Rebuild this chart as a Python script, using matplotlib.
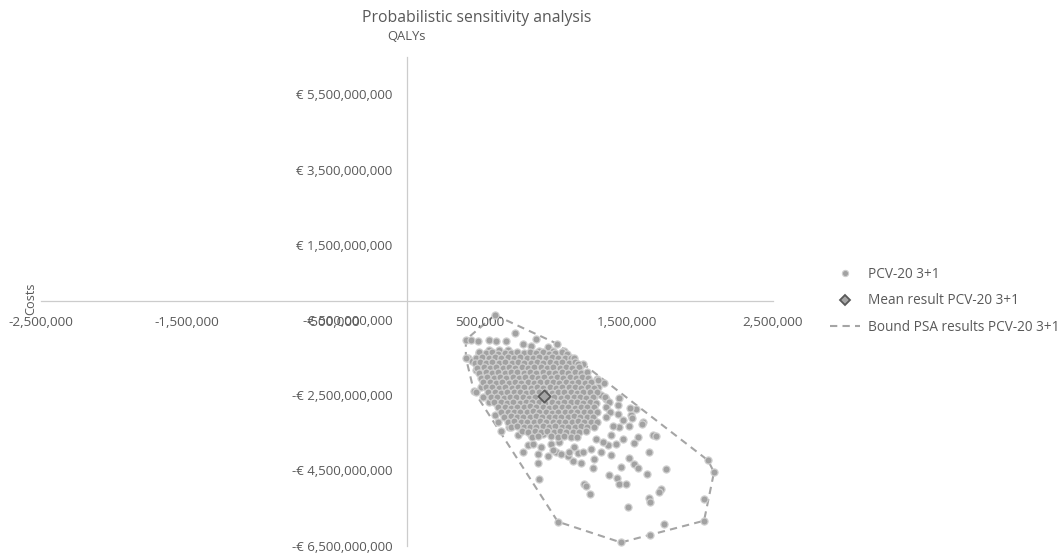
import numpy as np
import matplotlib.pyplot as plt
from matplotlib.lines import Line2D

plt.rcParams['font.family'] = ['Open Sans', 'DejaVu Sans']

# PSA iterations: (incremental QALYs in thousands, incremental costs in € millions)
psa_results = [
    # outer / sparse iterations
    (601, -368), (738, -842), (881, -1000), (403, -1026), (437, -1026), (485, -1052),
    (560, -1026), (608, -1052), (676, -1052), (560, -1289), (628, -1289), (690, -1289),
    (792, -1131), (847, -1184), (902, -1315), (963, -1210), (1025, -1131), (997, -1315),
    (1075, -1330), (417, -1499), (444, -1578), (492, -1368), (471, -1841), (506, -2288),
    (458, -2393), (471, -2420), (519, -2551), (560, -2683), (403, -1499),
    (1018, -1631), (1052, -1552), (1134, -1578), (1141, -1946), (1202, -1683), (1107, -1815),
    (1072, -2025), (1175, -2157), (1209, -2025), (1175, -1790), (1175, -2078), (1202, -2210),
    (1298, -2078), (1346, -2183), (1305, -2288), (1257, -2420), (1325, -2499), (1359, -2604),
    (1448, -2578), (1441, -2762), (1277, -2551), (1236, -2630), (1168, -2288), (1305, -2104),
    (601, -3025), (622, -3209), (645, -3460), (697, -3340), (758, -3551), (827, -3814),
    (792, -3998), (895, -4077), (915, -3866), (963, -4129), (984, -3787), (1018, -3998),
    (1052, -4077), (895, -4313), (902, -4734), (1031, -5865), (1134, -4261), (1189, -4313),
    (1100, -4129), (1141, -3866), (1209, -4866), (861, -3787), (929, -3524), (847, -3551),
    (1038, -3735), (997, -3945), (1107, -3998), (1168, -4050),
    (1564, -2867), (1530, -3025), (1612, -3209), (1680, -3551), (1701, -3577), (1578, -3603),
    (1551, -3761), (1448, -3340), (1407, -3314), (1516, -3314), (1475, -3656), (1428, -3787),
    (1653, -4024), (1516, -4182), (1394, -4103), (1277, -4208), (1271, -4445), (1551, -4340),
    (1578, -4445), (1462, -4418), (1769, -4471), (1640, -4603), (1380, -4629), (1435, -4708),
    (1448, -4866), (1496, -4866), (1223, -4918), (1250, -5129), (1735, -4997), (1721, -5076),
    (1653, -5234), (1660, -5339), (2056, -4234), (2097, -4550), (2029, -5260), (2029, -5839),
    (1510, -5471), (1756, -5918), (1660, -6215), (1462, -6417),
    (1394, -3551), (1373, -3814), (1325, -3998), (1257, -3919), (1202, -3998), (1339, -3735),
    (1291, -3656), (1475, -3156), (1540, -3110), (1523, -2840), (1605, -3261), (1441, -2998),
    # dense core
    (495, -1360), (538, -1385), (580, -1350), (622, -1395), (668, -1365), (710, -1380),
    (752, -1350), (798, -1390), (840, -1362), (885, -1378), (930, -1355), (972, -1392),
    (1015, -1368), (1060, -1350), (1095, -1400),
    (474, -1510), (516, -1490), (560, -1520), (603, -1488), (646, -1512), (690, -1495),
    (733, -1518), (776, -1486), (820, -1505), (862, -1522), (905, -1492), (948, -1510),
    (992, -1485), (1035, -1515), (1078, -1498), (1120, -1520), (1140, -1520),
    (468, -1640), (498, -1620), (540, -1645), (585, -1618), (628, -1640), (672, -1625),
    (715, -1648), (758, -1615), (800, -1635), (845, -1650), (888, -1622), (930, -1640),
    (975, -1615), (1018, -1638), (1062, -1625), (1105, -1650), (1148, -1620), (1172, -1660),
    (482, -1770), (525, -1750), (568, -1778), (612, -1755), (655, -1772), (698, -1748),
    (742, -1768), (785, -1752), (828, -1775), (870, -1760), (915, -1745), (958, -1772),
    (1000, -1755), (1045, -1778), (1088, -1750), (1130, -1768), (1175, -1755),
    (495, -1900), (538, -1882), (580, -1905), (625, -1885), (668, -1910), (710, -1890),
    (755, -1878), (798, -1902), (842, -1888), (885, -1908), (928, -1880), (972, -1898),
    (1015, -1912), (1058, -1885), (1100, -1900), (1145, -1880), (1188, -1905), (1230, -1895),
    (508, -2030), (550, -2015), (594, -2040), (636, -2018), (680, -2035), (722, -2010),
    (766, -2038), (808, -2020), (852, -2005), (895, -2032), (938, -2015), (982, -2040),
    (1025, -2012), (1068, -2030), (1112, -2018), (1155, -2042), (1198, -2020), (1240, -2035),
    (522, -2160), (565, -2145), (608, -2170), (650, -2150), (695, -2165), (738, -2140),
    (780, -2168), (825, -2150), (868, -2172), (910, -2145), (955, -2160), (998, -2138),
    (1040, -2170), (1085, -2152), (1128, -2165), (1170, -2148), (1215, -2175), (1255, -2155),
    (542, -2295), (585, -2275), (628, -2300), (672, -2280), (715, -2298), (758, -2272),
    (802, -2290), (845, -2305), (888, -2278), (932, -2296), (975, -2270), (1018, -2300),
    (1062, -2282), (1105, -2295), (1148, -2275), (1192, -2302), (1235, -2285), (1280, -2298),
    (556, -2425), (600, -2408), (642, -2432), (686, -2412), (730, -2428), (772, -2405),
    (815, -2435), (858, -2415), (902, -2428), (945, -2410), (990, -2432), (1032, -2412),
    (1075, -2425), (1120, -2405), (1162, -2430), (1205, -2418), (1250, -2428), (1295, -2410),
    (576, -2560), (618, -2540), (662, -2565), (705, -2545), (748, -2560), (792, -2538),
    (835, -2565), (878, -2548), (922, -2540), (965, -2555), (1008, -2540), (1052, -2565),
    (1095, -2545), (1138, -2560), (1182, -2538), (1225, -2562), (1268, -2548), (1355, -2545),
    (598, -2690), (640, -2672), (685, -2695), (728, -2675), (770, -2698), (815, -2670),
    (858, -2692), (900, -2675), (945, -2700), (988, -2678), (1030, -2695), (1075, -2672),
    (1118, -2690), (1162, -2675), (1205, -2698), (1250, -2680), (1292, -2695), (1378, -2690),
    (625, -2820), (668, -2805), (712, -2828), (755, -2808), (798, -2825), (842, -2800),
    (885, -2822), (928, -2805), (972, -2830), (1015, -2810), (1058, -2825), (1102, -2802),
    (1145, -2828), (1188, -2810), (1232, -2822), (1275, -2805), (1362, -2812),
    (645, -2950), (688, -2935), (732, -2960), (775, -2940), (818, -2958), (862, -2932),
    (905, -2955), (948, -2938), (992, -2962), (1035, -2940), (1078, -2955), (1122, -2935),
    (1165, -2960), (1208, -2942), (1252, -2958), (1295, -2935), (1385, -2945),
    (666, -3080), (710, -3065), (752, -3090), (795, -3070), (840, -3088), (882, -3062),
    (925, -3085), (968, -3068), (1012, -3092), (1055, -3070), (1098, -3085), (1142, -3065),
    (1185, -3090), (1228, -3072), (1272, -3088), (1360, -3085),
    (692, -3215), (735, -3198), (778, -3220), (822, -3200), (865, -3218), (908, -3195),
    (952, -3215), (995, -3200), (1038, -3222), (1082, -3205), (1125, -3218), (1168, -3198),
    (1212, -3215), (1255, -3205), (1300, -3220),
    (712, -3345), (755, -3330), (800, -3352), (842, -3335), (885, -3350), (930, -3328),
    (972, -3348), (1015, -3332), (1060, -3355), (1102, -3338), (1145, -3350), (1190, -3330),
    (1232, -3348), (1275, -3335),
    (785, -3460), (830, -3482), (872, -3465), (915, -3480), (960, -3458),
    (1002, -3478), (1045, -3462), (1090, -3485), (1132, -3468), (1175, -3480), (1220, -3462),
    (855, -3615), (898, -3598), (985, -3590),
    (1030, -3608), (1072, -3595), (1118, -3615), (1160, -3600),
]

mean_qaly_k, mean_cost_m = 935, -2530

# convex bound around the PSA cloud (thousands QALYs / € millions)
bound_qalys_k = [601, 1025, 2056, 2097, 2029, 1462, 1031, 458, 403, 403, 601]
bound_costs_m = [-368, -1131, -4234, -4550, -5839, -6417, -5865, -2393, -1499, -1026, -368]

x_ticks = [-2.5e6, -1.5e6, -0.5e6, 0.5e6, 1.5e6, 2.5e6]
x_tick_labels = ['-2,500,000', '-1,500,000', '-500,000', '500,000', '1,500,000', '2,500,000']
y_ticks = [5.5e9, 3.5e9, 1.5e9, -0.5e9, -2.5e9, -4.5e9, -6.5e9]
y_tick_labels = ['€ 5,500,000,000', '€ 3,500,000,000', '€ 1,500,000,000', '-€ 500,000,000',
                 '-€ 2,500,000,000', '-€ 4,500,000,000', '-€ 6,500,000,000']

series_names = ['PCV-20 3+1', 'Mean result PCV-20 3+1', 'Bound PSA results PCV-20 3+1']

pts = np.array(psa_results, dtype=float)
qalys = pts[:, 0] * 1e3
costs = pts[:, 1] * 1e6

grey = '#a2a2a2'
rim = '#cfcfcf'
text_grey = '#595959'
dash = (0, (3.5, 2.5))

fig = plt.figure(figsize=(10.61, 5.54), dpi=100)
ax = fig.add_axes([0.0382, 0.0152, 0.6904, 0.8823])

ax.plot(np.array(bound_qalys_k) * 1e3, np.array(bound_costs_m) * 1e6,
        color='#a5a5a5', lw=1.5, ls=dash, zorder=1)
ax.scatter(qalys, costs, s=26, c=grey, edgecolors=rim, linewidths=0.9, zorder=2)
ax.scatter([mean_qaly_k * 1e3], [mean_cost_m * 1e6], marker='D', s=38, c='#a5a5a5',
           edgecolors=text_grey, linewidths=1.3, zorder=4)

ax.set_xlim(-2.5e6, 2.5e6)
ax.set_ylim(-6.5e9, 6.5e9)
ax.set_xticks(x_ticks)
ax.set_xticklabels(x_tick_labels)
ax.set_yticks(y_ticks)
ax.set_yticklabels(y_tick_labels)

for side in ['top', 'right']:
    ax.spines[side].set_visible(False)
for side in ['left', 'bottom']:
    ax.spines[side].set_position(('data', 0))
    ax.spines[side].set_color('#cccccc')
    ax.spines[side].set_linewidth(0.9)

ax.tick_params(axis='x', length=0, pad=11, labelsize=9.7, labelcolor=text_grey)
ax.tick_params(axis='y', length=0, pad=10.5, labelsize=9.5, labelcolor=text_grey)
ax.patch.set_visible(False)

fig.text(477 / 1061, 1 - 18 / 554, 'Probabilistic sensitivity analysis', ha='center', va='center',
         fontsize=11.3, color=text_grey)
fig.text(406 / 1061, 1 - 37 / 554, 'QALYs', ha='center', va='center', fontsize=9.4, color=text_grey)
fig.text(31 / 1061, 1 - 299 / 554, 'Costs', ha='center', va='center', rotation=90,
         fontsize=9.2, color=text_grey)

handles = [
    Line2D([], [], ls='none', marker='o', ms=4.5, mfc=grey, mec=rim, mew=0.8),
    Line2D([], [], ls='none', marker='D', ms=5.5, mfc='#a5a5a5', mec=text_grey, mew=1.3),
    Line2D([], [], color='#a5a5a5', lw=1.5, ls=dash),
]
fig.legend(handles, series_names, loc='center left', bbox_to_anchor=(830 / 1061, 1 - 301 / 554),
           frameon=False, fontsize=9.8, labelcolor=text_grey, handlelength=2.2,
           handletextpad=0.6, labelspacing=0.85, borderpad=0, borderaxespad=0)

fig.savefig('out.png', dpi=100)
